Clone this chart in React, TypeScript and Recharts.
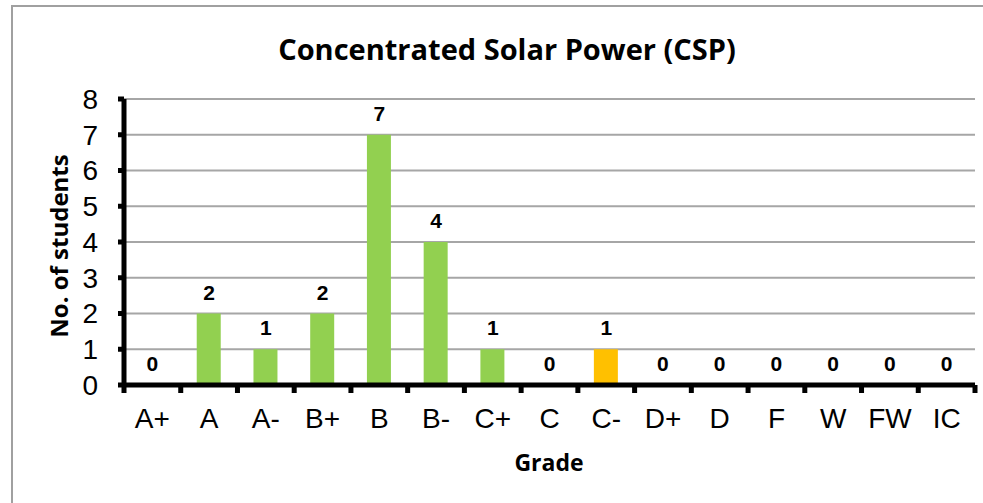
import { ComposedChart, Bar, Line, XAxis, YAxis, CartesianGrid, Cell, LabelList } from "recharts";

const grades = ["A+", "A", "A-", "B+", "B", "B-", "C+", "C", "C-", "D+", "D", "F", "W", "FW", "IC"];
const students = [0, 2, 1, 2, 7, 4, 1, 0, 1, 0, 0, 0, 0, 0, 0];
const barColors = ["#92D050", "#92D050", "#92D050", "#92D050", "#92D050", "#92D050", "#92D050", "#92D050", "#FFC000", "#92D050", "#92D050", "#92D050", "#92D050", "#92D050", "#92D050"];
const yTicks = [0, 1, 2, 3, 4, 5, 6, 7, 8];

const data = grades.map((g, i) => ({ grade: g, count: students[i] }));

const W = 983;
const H = 503;
const PLOT_LEFT = 124;
const PLOT_RIGHT = 975;
const PLOT_TOP = 99;
const PLOT_BOTTOM = 385;
const BAND = (PLOT_RIGHT - PLOT_LEFT) / grades.length;
const X_GAP = 23;

const arial = "'Liberation Sans', Arial, sans-serif";
const calibri = "'Open Sans', Lato, sans-serif";

// category label in the middle, tick mark on the band edges like Excel
function GradeTick(props: any) {
  const { x, y, payload, index } = props;
  const half = BAND / 2;
  return (
    <g>
      <text x={x} y={y} dy="0.71em" textAnchor="middle" fontSize={28} fontFamily={arial} fill="#000">
        {payload.value}
      </text>
      <rect x={x - half - 2.5} y={y - X_GAP} width={5} height={8} fill="#000" />
      {index === grades.length - 1 && <rect x={x + half - 2.5} y={y - X_GAP} width={5} height={8} fill="#000" />}
    </g>
  );
}

export default function App() {
  return (
    <div style={{ position: "absolute", left: 0, top: 0, width: W, height: H, overflow: "hidden", background: "#fff" }}>
      {/* chart frame: only top and left edges fall inside the picture */}
      <div style={{ position: "absolute", left: 11, top: 5, width: W, height: 2, background: "#a0a0a0" }} />
      <div style={{ position: "absolute", left: 11, top: 5, width: 2, height: H, background: "#a0a0a0" }} />
      <div
        style={{
          position: "absolute",
          left: 507,
          top: 48,
          transform: "translate(-50%, -50%)",
          whiteSpace: "nowrap",
          fontFamily: calibri,
          fontWeight: 700,
          fontSize: 29,
          lineHeight: 1,
          color: "#000",
        }}
      >
        Concentrated Solar Power (CSP)
      </div>
      <div
        style={{
          position: "absolute",
          left: 59,
          top: 246,
          transform: "translate(-50%, -50%) rotate(-90deg)",
          whiteSpace: "nowrap",
          fontFamily: calibri,
          fontWeight: 700,
          fontSize: 24,
          lineHeight: 1,
          color: "#000",
        }}
      >
        No. of students
      </div>
      <div
        style={{
          position: "absolute",
          left: 549,
          top: 462,
          transform: "translate(-50%, -50%)",
          whiteSpace: "nowrap",
          fontFamily: calibri,
          fontWeight: 700,
          fontSize: 23,
          lineHeight: 1,
          color: "#000",
        }}
      >
        Grade
      </div>
      <div style={{ position: "absolute", left: 0, top: 0 }}>
        <ComposedChart
          width={W}
          height={H}
          data={data}
          margin={{ top: PLOT_TOP, right: W - PLOT_RIGHT, bottom: H - PLOT_BOTTOM - 40, left: PLOT_LEFT - 60 }}
          barSize={24}
          style={{ outline: "none" }}
        >
          <CartesianGrid vertical={false} stroke="#a6a6a6" strokeWidth={2} />
          <XAxis
            dataKey="grade"
            height={40}
            axisLine={{ stroke: "#000", strokeWidth: 5 }}
            tickLine={false}
            tickSize={0}
            tickMargin={X_GAP}
            interval={0}
            tick={<GradeTick />}
          />
          <YAxis
            width={60}
            domain={[0, 8]}
            ticks={yTicks}
            interval={0}
            axisLine={{ stroke: "#000", strokeWidth: 5 }}
            tickLine={{ stroke: "#000", strokeWidth: 5 }}
            tickSize={6}
            tickMargin={20}
            tick={{ fill: "#000", fontSize: 28, fontFamily: arial }}
          />
          <Bar dataKey="count" isAnimationActive={false}>
            {data.map((d, i) => (
              <Cell key={d.grade} fill={barColors[i]} />
            ))}
          </Bar>
          {/* invisible line only to carry the value labels, zeros included */}
          <Line dataKey="count" stroke="none" dot={false} activeDot={false} isAnimationActive={false}>
            <LabelList
              dataKey="count"
              position="top"
              offset={14}
              fill="#000"
              fontSize={21}
              fontWeight={700}
              fontFamily={arial}
            />
          </Line>
        </ComposedChart>
      </div>
    </div>
  );
}
